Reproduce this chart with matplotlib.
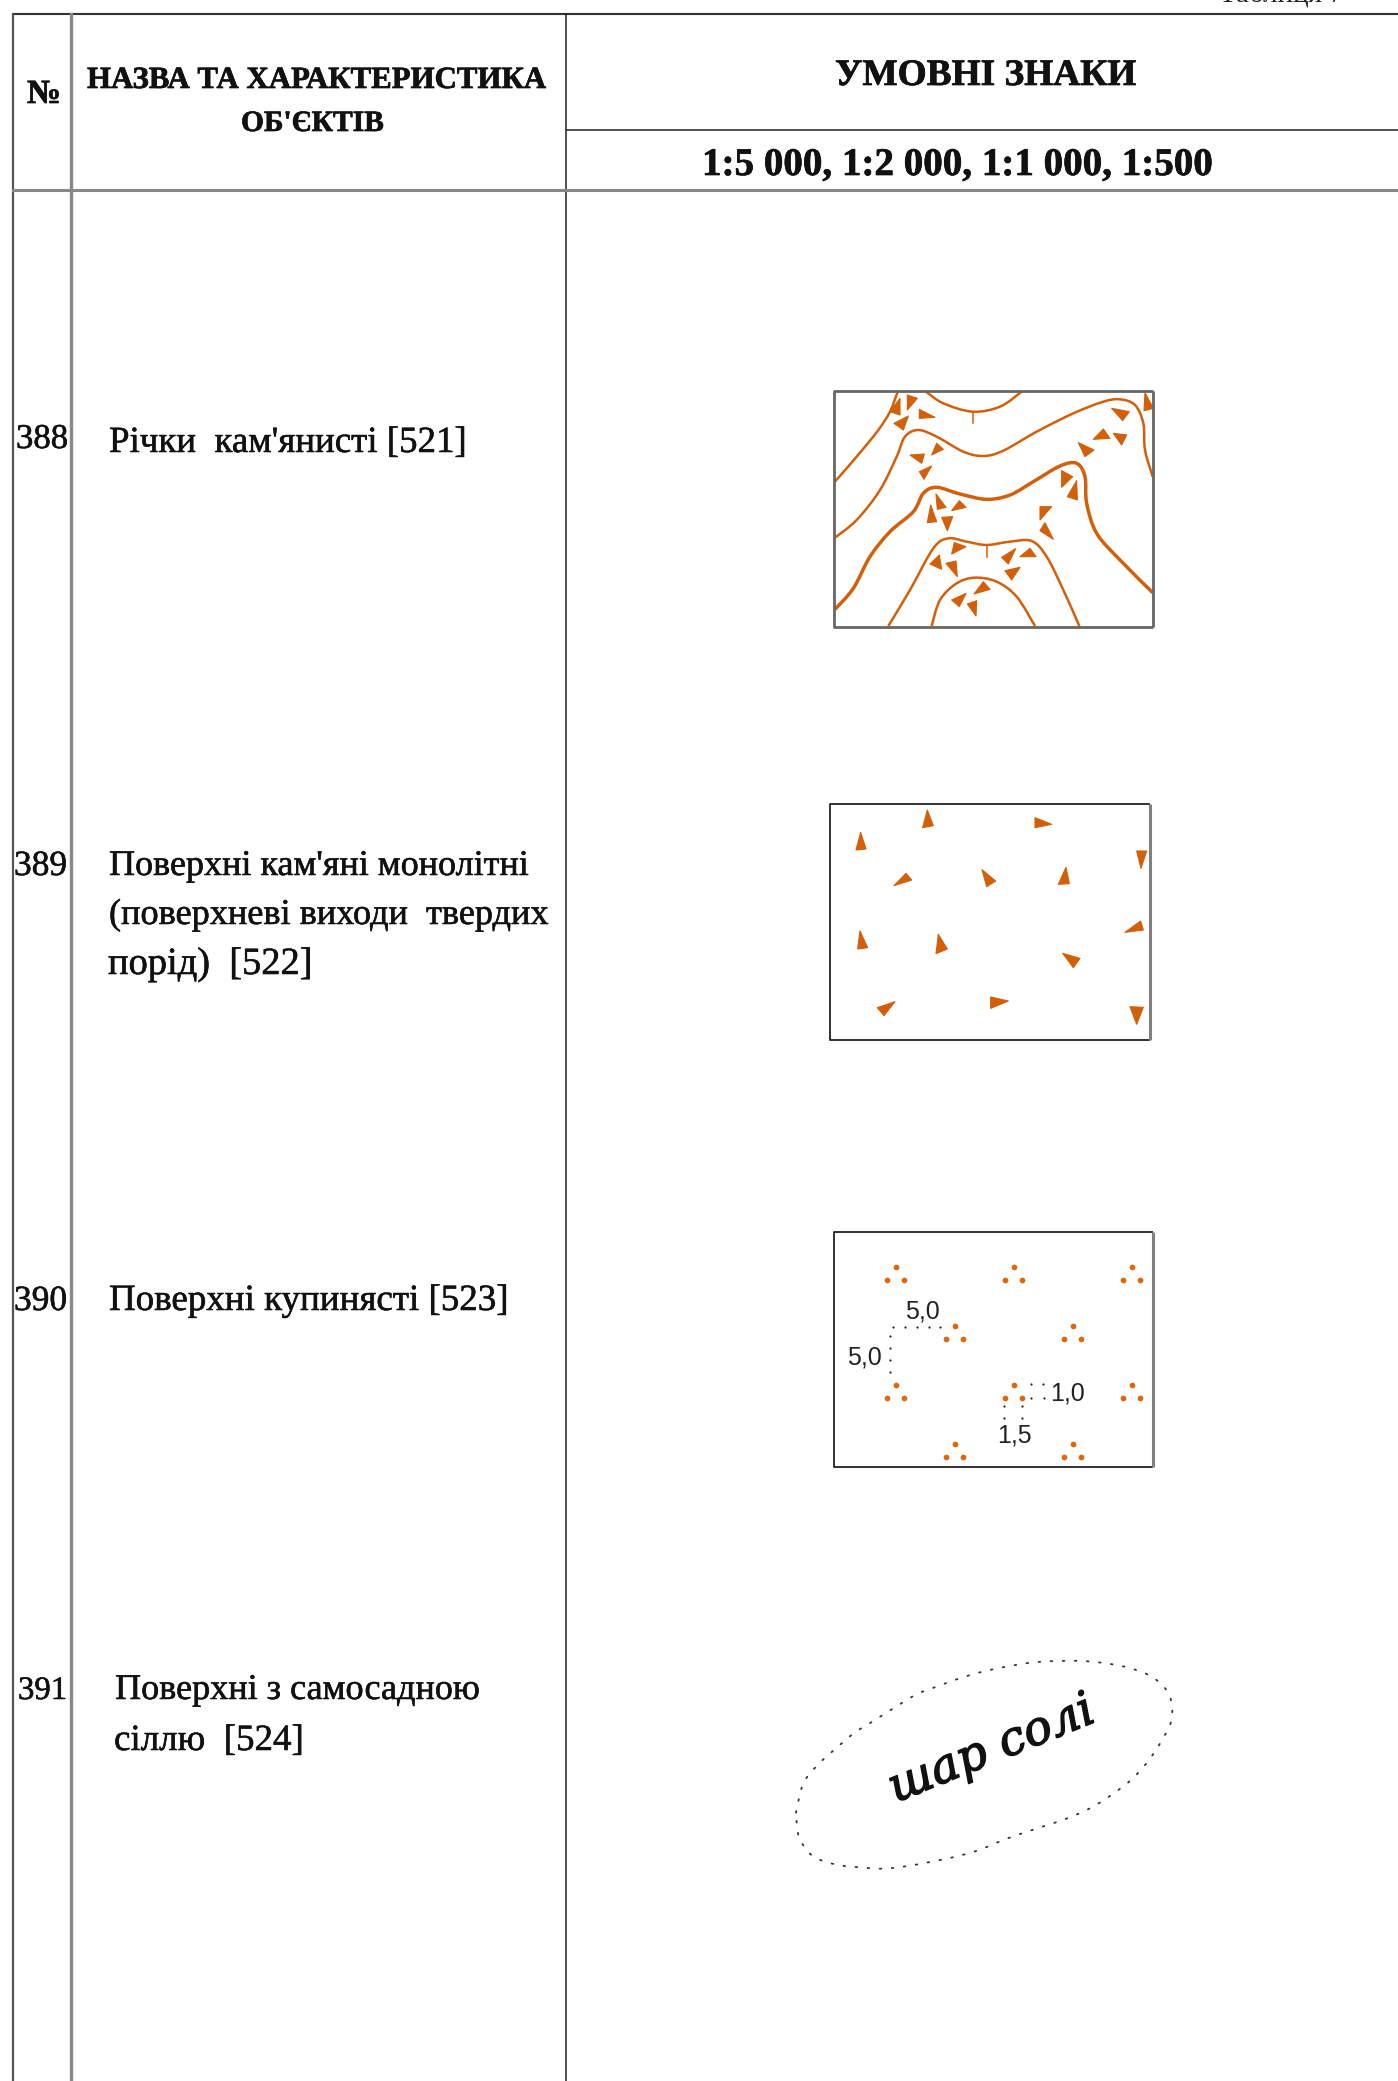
import matplotlib
matplotlib.use("Agg")
import matplotlib.pyplot as plt
import matplotlib.patheffects as pe
from matplotlib.path import Path
from matplotlib.patches import PathPatch, Polygon, Rectangle

ORANGE = "#d2600a"
FONT = "Liberation Serif"

# table text: x, baseline, width in px, text
header_texts = [
    (27, 103, 34, "№"),
    (87, 88, 460, "НАЗВА ТА ХАРАКТЕРИСТИКА"),
    (241, 131, 143, "ОБ'ЄКТІВ"),
    (835, 85, 302, "УМОВНІ ЗНАКИ"),
    (702, 175, 510, "1:5 000, 1:2 000, 1:1 000, 1:500"),
]
row_numbers = [
    (16, 448, 52, "388"),
    (14, 875, 53, "389"),
    (14, 1310, 53, "390"),
    (18, 1699, 49, "391"),
]
row_names = [
    (109, 452, 358, "Річки  кам'янисті [521]"),
    (109, 875, 420, "Поверхні кам'яні монолітні"),
    (109, 924, 440, "(поверхневі виходи  твердих"),
    (108, 974, 205, "порід)  [522]"),
    (109, 1310, 400, "Поверхні купинясті [523]"),
    (115, 1699, 365, "Поверхні з самосадною"),
    (114, 1750, 190, "сіллю  [524]"),
]

contours_388 = [
    ([(232, 38), (210, 95), (175, 150), (110, 230), (42, 308)], 1.8),
    ([(318, 35), (370, 70), (458, 95), (540, 80), (605, 35)], 1.8),
    ([(42, 475), (110, 420), (180, 330), (230, 230), (255, 170), (295, 150), (350, 170),
      (430, 215), (490, 228), (550, 212), (650, 155), (760, 100), (850, 65), (900, 58),
      (945, 75), (970, 130), (975, 210), (998, 290)], 1.8),
    ([(45, 688), (100, 625), (150, 530), (210, 455), (280, 395), (310, 340), (350, 322),
      (420, 342), (500, 358), (570, 345), (640, 305), (720, 258), (770, 250), (795, 290),
      (800, 370), (830, 460), (900, 540), (998, 638)], 2.5),
    ([(205, 738), (270, 630), (340, 505), (385, 475), (440, 485), (500, 495), (570, 485),
      (635, 483), (680, 530), (730, 630), (778, 738)], 1.8),
    ([(335, 738), (360, 660), (410, 610), (465, 593), (530, 605), (590, 650), (645, 738)], 1.8),
]
ticks_388 = [[(458, 95), (458, 130)], [(500, 495), (500, 532)]]
triangles_388 = [
    [(240, 55), (240, 105), (210, 95)], [(262, 45), (292, 55), (262, 90)],
    [(298, 88), (345, 112), (298, 115)], [(222, 130), (265, 108), (250, 150)],
    [(270, 225), (313, 222), (305, 250)], [(335, 225), (350, 190), (370, 208)],
    [(335, 258), (298, 275), (312, 298)], [(348, 342), (378, 382), (352, 388)],
    [(395, 392), (418, 362), (438, 382)], [(332, 375), (350, 425), (322, 428)],
    [(365, 412), (398, 410), (382, 452)], [(725, 272), (758, 290), (725, 322)],
    [(770, 302), (772, 360), (742, 350)], [(660, 380), (695, 380), (660, 420)],
    [(675, 428), (700, 478), (660, 452)], [(403, 488), (438, 500), (395, 522)],
    [(330, 552), (358, 525), (365, 568)], [(378, 550), (408, 543), (412, 590)],
    [(587, 506), (565, 552), (545, 532)], [(600, 530), (630, 505), (648, 530)],
    [(600, 562), (555, 572), (575, 600)], [(462, 642), (490, 605), (510, 628)],
    [(395, 660), (438, 640), (418, 680)], [(442, 672), (470, 662), (468, 708)],
    [(875, 85), (928, 95), (908, 122)], [(820, 178), (850, 147), (870, 175)],
    [(880, 160), (920, 165), (905, 195)], [(775, 188), (822, 210), (795, 230)],
    [(975, 38), (1000, 85), (972, 92)],
]

# sign 389, crop at (820, 795), 3x
triangles_389 = [
    [(322, 45), (308, 98), (340, 92)], [(122, 112), (108, 165), (138, 162)],
    [(645, 68), (695, 88), (645, 98)], [(950, 168), (980, 168), (963, 220)],
    [(222, 272), (258, 235), (275, 255)], [(486, 224), (527, 258), (500, 275)],
    [(738, 217), (715, 268), (748, 266)], [(120, 408), (113, 462), (143, 458)],
    [(355, 418), (348, 476), (382, 462)], [(915, 412), (962, 378), (970, 405)],
    [(728, 475), (780, 490), (760, 518)], [(225, 620), (172, 638), (192, 662)],
    [(512, 606), (565, 618), (512, 640)], [(930, 635), (970, 637), (950, 688)],
]

# sign 390, crop at (820, 1220), 3x
triads_390 = [(228, 140), (582, 140), (936, 140), (404, 318), (759, 318),
              (228, 495), (582, 495), (936, 495), (404, 672), (759, 672)]
triad_offsets = [(0, 0), (-27, 40), (25, 40)]
leader_dots_390 = [(220, 320), (256, 320), (292, 320), (328, 320), (360, 320),
                   (210, 348), (210, 384), (210, 420), (210, 457),
                   (632, 492), (670, 492), (632, 535), (672, 535),
                   (553, 558), (553, 595), (607, 558), (607, 595)]
labels_390 = [("5,0", 922, 1319), ("5,0", 864, 1364), ("1,0", 1067, 1400), ("1,5", 1014, 1442)]

# sign 391, crop at (780, 1640), 3x
outline_391 = [(48, 518), (70, 430), (115, 373), (168, 325), (224, 278), (285, 240), (348, 200),
               (412, 162), (478, 137), (548, 112), (616, 93), (690, 78), (762, 67), (833, 63),
               (905, 63), (978, 70), (1052, 85), (1120, 113), (1168, 165), (1175, 237), (1145, 302),
               (1103, 365), (1055, 418), (997, 463), (935, 502), (870, 532), (800, 556), (732, 578),
               (665, 602), (597, 630), (527, 650), (455, 665), (383, 678), (310, 686), (238, 682),
               (165, 673), (97, 647), (57, 590), (48, 518)]


def crop(points, x0, y0):
    return [(x0 + x / 3, y0 + y / 3) for x, y in points]


def smooth_path(points):
    # catmull-rom through the read points, as bezier segments
    verts = [points[0]]
    codes = [Path.MOVETO]
    for i in range(len(points) - 1):
        p0 = points[max(i - 1, 0)]
        p1 = points[i]
        p2 = points[i + 1]
        p3 = points[min(i + 2, len(points) - 1)]
        verts.append((p1[0] + (p2[0] - p0[0]) / 6, p1[1] + (p2[1] - p0[1]) / 6))
        verts.append((p2[0] - (p3[0] - p1[0]) / 6, p2[1] - (p3[1] - p1[1]) / 6))
        verts.append(p2)
        codes += [Path.CURVE4] * 3
    return Path(verts, codes)


def fit_text(ax, x, y, width, s, size=24, stroke=0.0, **kw):
    t = ax.text(x, y, s, fontsize=size, va="baseline", ha="left", color="#111111", **kw)
    w = t.get_window_extent(ax.figure.canvas.get_renderer()).width
    t.set_fontsize(size * width / w)
    if stroke:
        t.set_path_effects([pe.withStroke(linewidth=stroke, foreground="#111111")])
    return t


def draw_box(ax, x0, y0, x1, y1, color, lw, right_color=None):
    ax.plot([x1, x0, x0, x1], [y0, y0, y1, y1], color=color, lw=lw, solid_capstyle="butt")
    ax.plot([x1, x1], [y0, y1], color=right_color or color, lw=lw if right_color is None else 2.2,
            solid_capstyle="butt")


fig = plt.figure(figsize=(13.98, 20.81), dpi=100)
ax = fig.add_axes([0, 0, 1, 1])
ax.set_xlim(0, 1398)
ax.set_ylim(2081, 0)
ax.axis("off")

# table grid
ax.plot([12.5, 1398], [14, 14], color="#333333", lw=1.5)
ax.plot([12.5, 12.5], [14, 2081], color="#555555", lw=1.6)
ax.plot([70.5, 70.5], [14, 2081], color="#888888", lw=2.4)
ax.plot([566, 566], [14, 2081], color="#222222", lw=1.1)
ax.plot([566, 1398], [130, 130], color="#333333", lw=1.2)
ax.plot([12.5, 1398], [190, 190], color="#888888", lw=2.2)

# text clipped by the top of the page
ax.text(1219, 2, "Таблиця 7", fontsize=21, family=FONT, va="baseline", ha="left", color="#222222")

for x, y, w, s in header_texts:
    fit_text(ax, x, y, w, s, stroke=0.5, family=FONT, fontweight="bold")
for x, y, w, s in row_numbers:
    fit_text(ax, x, y, w, s, stroke=0.4, family=FONT)
for x, y, w, s in row_names:
    fit_text(ax, x, y, w, s, stroke=0.4, family=FONT)

# 388
clip_388 = Rectangle((834, 391), 319, 236, transform=ax.transData)
for points, lw in contours_388:
    patch = PathPatch(smooth_path(crop(points, 820, 380)), fc="none", ec=ORANGE, lw=lw, capstyle="butt")
    ax.add_patch(patch)
    patch.set_clip_path(clip_388)
for points in ticks_388:
    pts = crop(points, 820, 380)
    ax.plot([p[0] for p in pts], [p[1] for p in pts], color=ORANGE, lw=1.1)
for tri in triangles_388:
    ax.add_patch(Polygon(crop(tri, 820, 380), closed=True, fc=ORANGE, ec=ORANGE, lw=0.8, joinstyle="round"))
draw_box(ax, 834, 391, 1153, 627, "#666666", 2.0)

# 389
for tri in triangles_389:
    ax.add_patch(Polygon(crop(tri, 820, 795), closed=True, fc=ORANGE, ec=ORANGE, lw=0.8, joinstyle="round"))
draw_box(ax, 830, 804, 1150, 1040, "#222222", 1.3, right_color="#808080")

# 390
tx = []
ty = []
for ax0, ay0 in triads_390:
    for dx, dy in triad_offsets:
        tx.append(820 + (ax0 + dx) / 3)
        ty.append(1220 + (ay0 + dy) / 3)
ax.scatter(tx, ty, s=17, color="#e0660a", linewidths=0)
leaders = crop(leader_dots_390, 820, 1220)
ax.scatter([p[0] for p in leaders], [p[1] for p in leaders], s=2.5, color="#222222", linewidths=0)
for s, x, y in labels_390:
    ax.text(x, y, s, fontsize=18, family="Liberation Sans", ha="center", va="baseline", color="#222222")
draw_box(ax, 834, 1232, 1153, 1467, "#222222", 1.3, right_color="#808080")

# 391
ax.add_patch(PathPatch(smooth_path(crop(outline_391, 780, 1640)), fc="none", ec="#333333", lw=1.3,
                       linestyle=(0, (0.9, 5.8)), capstyle="round"))
ax.text(992, 1750, "шар солі", fontsize=34, family="DejaVu Serif", style="italic", rotation=22,
        rotation_mode="anchor", ha="center", va="center", color="#111111",
        path_effects=[pe.withStroke(linewidth=1.0, foreground="#111111")])

fig.savefig("out.png", dpi=100)
